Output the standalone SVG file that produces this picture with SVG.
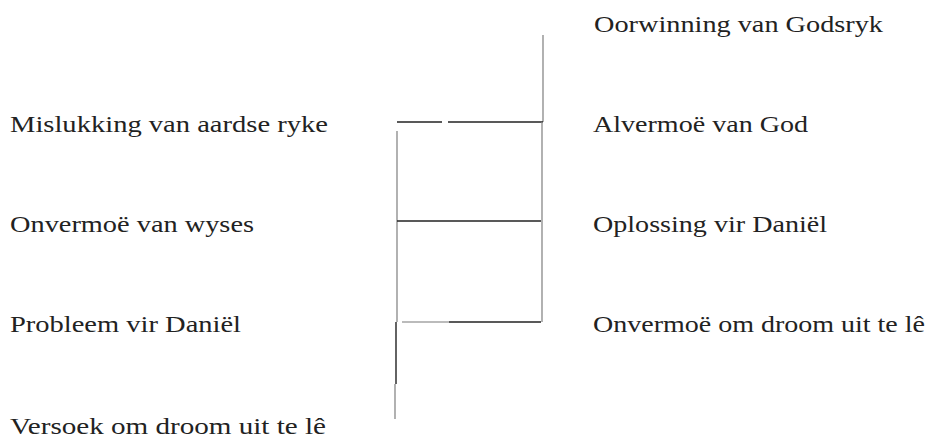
<svg xmlns="http://www.w3.org/2000/svg" width="933" height="441" viewBox="0 0 933 441">
<style>
text{font-family:"Liberation Serif","Times New Roman",serif;font-size:24px;fill:#222;}
.v{stroke:#888;stroke-width:1.3;fill:none;}
.h{stroke:#222;stroke-width:1.4;fill:none;}
.lt{stroke:#bbb;stroke-width:2;fill:none;}
</style>
<rect width="933" height="441" fill="#fff"/>
<g id="connectors">
<line class="v" x1="543" y1="35" x2="543" y2="122"/>
<line class="h" x1="397" y1="122" x2="442" y2="122"/>
<line class="h" x1="448" y1="122" x2="543" y2="122"/>
<line class="v" x1="542" y1="122" x2="542" y2="322"/>
<line class="v" x1="397" y1="131" x2="397" y2="322"/>
<line class="h" x1="397" y1="221" x2="541" y2="221"/>
<line class="lt" x1="402" y1="322" x2="449" y2="322"/>
<line class="h" x1="449" y1="322" x2="541" y2="322"/>
<line class="h" x1="396" y1="322" x2="396" y2="384"/>
<line class="v" x1="395" y1="384" x2="395" y2="419"/>
</g>
<g id="n1"><text x="10" y="132" textLength="318" lengthAdjust="spacingAndGlyphs">Mislukking van aardse ryke</text></g>
<g id="n2"><text x="10" y="232" textLength="244" lengthAdjust="spacingAndGlyphs">Onvermoë van wyses</text></g>
<g id="n3"><text x="10" y="332" textLength="231" lengthAdjust="spacingAndGlyphs">Probleem vir Daniël</text></g>
<g id="n4"><text x="10" y="434" textLength="316" lengthAdjust="spacingAndGlyphs">Versoek om droom uit te lê</text></g>
<g id="n5"><text x="594" y="32" textLength="289" lengthAdjust="spacingAndGlyphs">Oorwinning van Godsryk</text></g>
<g id="n6"><text x="593" y="132" textLength="215" lengthAdjust="spacingAndGlyphs">Alvermoë van God</text></g>
<g id="n7"><text x="593" y="232" textLength="234" lengthAdjust="spacingAndGlyphs">Oplossing vir Daniël</text></g>
<g id="n8"><text x="593" y="332" textLength="332" lengthAdjust="spacingAndGlyphs">Onvermoë om droom uit te lê</text></g>
</svg>
